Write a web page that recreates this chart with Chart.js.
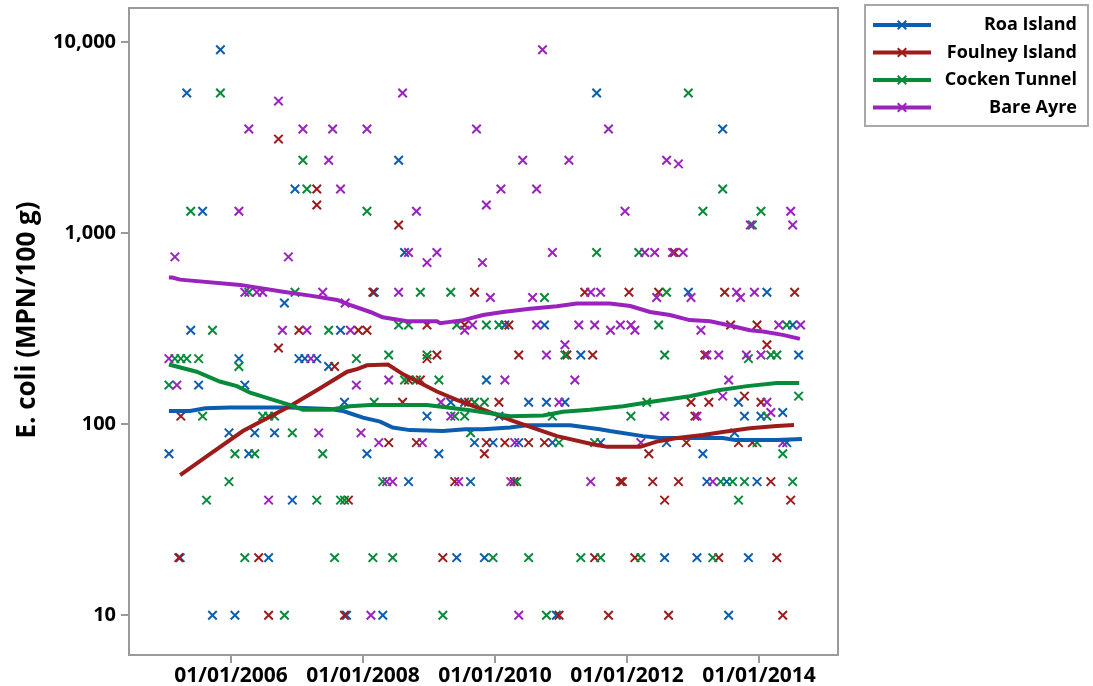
<!DOCTYPE html>
<html>
<head>
<meta charset="utf-8">
<script src="https://cdn.jsdelivr.net/npm/chart.js@4.4.1/dist/chart.umd.min.js"></script>
<style>
  html, body { margin: 0; padding: 0; background: #fff; }
  #wrap { width: 1093px; height: 686px; position: relative; }
</style>
</head>
<body>
<div id="wrap"><canvas id="chart" width="1093" height="686"></canvas></div>
<script>
// Sites and their colours
const seriesNames = ['Roa Island', 'Foulney Island', 'Cocken Tunnel', 'Bare Ayre'];
const seriesColors = ['#0B5DAF', '#9C1C1C', '#078A3A', '#9A22BD'];

// Axis ticks and title
const xTickYears = [2006, 2008, 2010, 2012, 2014];
const yTickValues = [10, 100, 1000, 10000];
const yTitle = 'E. coli (MPN/100 g)';

// Shellfish samples: [sampling date as decimal year, E. coli MPN/100 g]
const roaIsland = [
  [2005.06,70],[2005.23,20],[2005.33,5400],[2005.39,310],[2005.51,160],[2005.57,1300],[2005.72,10],
  [2005.84,9100],[2005.97,90],[2006.06,10],[2006.12,220],[2006.21,160],[2006.27,70],[2006.36,90],
  [2006.57,20],[2006.66,90],[2006.81,430],[2006.93,40],[2006.97,1700],[2007.03,220],[2007.12,220],
  [2007.30,220],[2007.48,200],[2007.66,310],[2007.72,130],[2007.75,10],[2008.06,70],[2008.17,490],
  [2008.30,10],[2008.54,2400],[2008.63,790],[2008.69,50],[2008.97,110],[2009.15,70],[2009.33,130],
  [2009.42,20],[2009.54,130],[2009.63,50],[2009.69,80],[2009.84,20],[2009.87,170],[2009.97,80],
  [2010.06,110],[2010.15,330],[2010.36,80],[2010.51,130],[2010.75,330],[2010.78,130],[2010.87,80],
  [2010.93,10],[2011.06,130],[2011.30,230],[2011.54,5400],[2011.60,80],[2012.57,20],[2012.60,80],
  [2012.93,490],[2013.06,20],[2013.15,70],[2013.21,50],[2013.45,3500],[2013.51,50],[2013.54,10],
  [2013.63,90],[2013.69,130],[2013.78,110],[2013.84,20],[2013.97,50],[2014.03,110],[2014.12,490],
  [2014.36,115],[2014.42,80],[2014.51,330],[2014.60,230]
];
const foulneyIsland = [
  [2005.21,20],[2005.24,110],[2006.42,20],[2006.57,10],[2006.72,3100],[2006.72,250],[2007.03,310],
  [2007.30,1700],[2007.30,1400],[2007.57,200],[2007.72,10],[2007.78,40],[2007.93,310],[2008.06,310],
  [2008.15,490],[2008.39,80],[2008.54,1100],[2008.60,130],[2008.69,170],[2008.81,80],[2008.87,170],
  [2008.97,220],[2008.97,330],[2009.12,230],[2009.21,20],[2009.39,50],[2009.54,330],[2009.60,130],
  [2009.69,490],[2009.84,70],[2009.87,80],[2010.06,130],[2010.15,80],[2010.21,330],[2010.29,50],
  [2010.36,230],[2010.51,80],[2010.75,80],[2010.97,10],[2011.09,230],[2011.36,490],[2011.48,230],
  [2011.51,20],[2011.72,10],[2011.90,50],[2011.93,50],[2012.03,490],[2012.12,20],[2012.33,70],
  [2012.39,50],[2012.48,490],[2012.57,40],[2012.63,10],[2012.72,790],[2012.78,50],[2012.90,80],
  [2012.97,130],[2013.03,110],[2013.18,230],[2013.24,130],[2013.39,20],[2013.48,490],[2013.57,330],
  [2013.69,80],[2013.78,140],[2013.90,80],[2013.97,330],[2014.03,130],[2014.12,260],[2014.18,50],
  [2014.27,20],[2014.36,10],[2014.48,40],[2014.54,490]
];
const cockenTunnel = [
  [2005.06,160],[2005.15,220],[2005.24,220],[2005.33,220],[2005.39,1300],[2005.51,220],[2005.57,110],
  [2005.63,40],[2005.72,310],[2005.84,5400],[2005.97,50],[2006.06,70],[2006.12,200],[2006.21,20],
  [2006.27,490],[2006.36,70],[2006.48,110],[2006.57,110],[2006.66,110],[2006.81,10],[2006.93,90],
  [2006.97,490],[2007.09,2400],[2007.15,1700],[2007.30,40],[2007.39,70],[2007.48,310],[2007.57,20],
  [2007.66,40],[2007.72,40],[2007.90,220],[2008.06,1300],[2008.15,20],[2008.17,130],[2008.30,50],
  [2008.39,230],[2008.45,20],[2008.54,330],[2008.63,170],[2008.69,330],[2008.81,170],[2008.87,490],
  [2008.97,230],[2009.15,170],[2009.21,10],[2009.33,490],[2009.39,110],[2009.42,330],[2009.54,110],
  [2009.63,90],[2009.69,130],[2009.84,130],[2009.87,330],[2009.97,20],[2010.06,330],[2010.33,50],
  [2010.51,20],[2010.75,460],[2010.78,10],[2010.87,110],[2010.97,80],[2011.06,230],[2011.30,20],
  [2011.51,80],[2011.54,790],[2011.60,20],[2012.06,110],[2012.18,790],[2012.21,20],[2012.30,130],
  [2012.48,330],[2012.57,230],[2012.60,490],[2012.93,5400],[2013.15,1300],[2013.30,20],[2013.42,50],
  [2013.45,1700],[2013.60,50],[2013.69,40],[2013.78,50],[2013.84,220],[2013.90,1100],[2013.97,80],
  [2014.03,1300],[2014.12,110],[2014.18,230],[2014.27,230],[2014.36,70],[2014.42,330],[2014.51,50],
  [2014.60,140]
];
const bareAyre = [
  [2005.06,220],[2005.15,750],[2005.18,160],[2006.12,1300],[2006.21,490],[2006.27,3500],[2006.39,490],
  [2006.48,490],[2006.57,40],[2006.72,4900],[2006.78,310],[2006.87,750],[2007.09,3500],[2007.15,310],
  [2007.21,220],[2007.33,90],[2007.39,490],[2007.48,2400],[2007.54,3500],[2007.66,1700],[2007.73,430],
  [2007.81,310],[2007.90,160],[2007.97,90],[2008.06,3500],[2008.12,10],[2008.24,80],[2008.36,50],
  [2008.39,170],[2008.45,50],[2008.54,490],[2008.60,5400],[2008.69,790],[2008.81,1300],[2008.90,80],
  [2008.97,700],[2009.12,790],[2009.18,130],[2009.33,110],[2009.45,50],[2009.54,310],[2009.66,330],
  [2009.72,3500],[2009.81,700],[2009.87,1400],[2009.93,460],[2010.09,1700],[2010.15,170],[2010.24,50],
  [2010.30,80],[2010.36,10],[2010.42,2400],[2010.57,460],[2010.63,330],[2010.63,1700],[2010.72,9100],
  [2010.78,230],[2010.87,790],[2010.97,130],[2011.06,260],[2011.12,2400],[2011.21,170],[2011.27,330],
  [2011.45,490],[2011.45,50],[2011.51,330],[2011.60,490],[2011.72,3500],[2011.75,310],[2011.90,330],
  [2011.97,1300],[2012.06,330],[2012.12,310],[2012.21,80],[2012.27,790],[2012.42,790],[2012.45,460],
  [2012.57,110],[2012.60,2400],[2012.69,790],[2012.78,2300],[2012.85,790],[2012.97,460],[2013.06,110],
  [2013.12,310],[2013.21,230],[2013.30,50],[2013.39,230],[2013.45,140],[2013.54,170],[2013.66,490],
  [2013.72,460],[2013.81,230],[2013.87,1100],[2013.93,490],[2014.03,230],[2014.12,130],[2014.18,115],
  [2014.30,330],[2014.36,80],[2014.48,1300],[2014.51,1100],[2014.63,330]
];

// Smoothed trend per site: [decimal year, MPN/100 g]
const roaTrend = [
  [2005.06,117],[2005.38,117],[2005.61,121],[2005.98,122],[2006.89,122],[2007.50,120],[2007.70,117],
  [2008.00,108],[2008.26,103],[2008.45,96],[2008.71,93],[2009.21,92],[2009.55,94],[2009.82,94],
  [2010.23,96],[2010.48,98.5],[2011.14,98.5],[2011.59,94],[2011.74,92],[2012.24,86.5],[2012.50,84.5],
  [2013.45,84.5],[2013.64,82.6],[2014.27,82.6],[2014.65,83.6]
];
const foulneyTrend = [
  [2005.23,54],[2005.68,69.6],[2006.18,92],[2006.89,124],[2007.35,154],[2007.76,188],[2007.91,194],
  [2008.06,203],[2008.38,205],[2008.61,182],[2009.12,148],[2009.42,134],[2009.82,119],[2010.27,104],
  [2010.94,86.5],[2011.48,78.5],[2011.70,76],[2012.20,76],[2012.45,81],[2012.76,84.5],[2013.15,87.6],
  [2013.45,91],[2013.86,95],[2014.27,97.7],[2014.53,98.8]
];
const cockenTrend = [
  [2005.06,205],[2005.48,188],[2005.83,167],[2006.09,158],[2006.29,146],[2006.64,134],[2006.89,126],
  [2007.09,119],[2007.50,119],[2007.80,124],[2008.11,126],[2008.97,126],[2009.62,118],[2010.23,110],
  [2010.73,111],[2011.03,116],[2011.44,119],[2011.94,124],[2012.45,132],[2012.95,140],[2013.36,150],
  [2013.82,158],[2014.27,164],[2014.61,164]
];
const bareTrend = [
  [2005.06,584],[2005.11,584],[2005.23,570],[2006.14,535],[2006.79,493],[2007.20,470],[2007.61,446],
  [2007.80,420],[2008.11,386],[2008.30,362],[2008.67,345],[2009.12,345],[2009.17,337],[2009.52,350],
  [2009.82,372],[2010.12,386],[2010.53,401],[2010.94,414],[2011.24,427],[2011.74,427],[2012.05,415],
  [2012.35,386],[2012.65,372],[2012.95,350],[2013.26,345],[2013.56,328],[2013.86,310],[2014.06,305],
  [2014.36,293],[2014.62,279]
];

const samples = [roaIsland, foulneyIsland, cockenTunnel, bareAyre];
const trends = [roaTrend, foulneyTrend, cockenTrend, bareTrend];

const FONT = '"Open Sans", "Noto Sans", sans-serif';
const MARK_RADIUS = 6;
const MARK_WIDTH = 2;
const toPoints = arr => arr.map(([x, y]) => ({ x, y }));

const datasets = [];
// trend lines (later sites drawn on top)
trends.forEach((t, i) => {
  datasets.push({
    label: seriesNames[i] + ' trend',
    data: toPoints(t),
    showLine: true,
    borderColor: seriesColors[i],
    borderWidth: 4,
    pointRadius: 0,
    tension: 0,
    fill: false,
    order: 3 - i
  });
});
// individual results
samples.forEach((s, i) => {
  datasets.push({
    label: seriesNames[i],
    data: toPoints(s),
    showLine: false,
    pointStyle: 'crossRot',
    pointRadius: MARK_RADIUS,
    pointBorderWidth: MARK_WIDTH,
    borderColor: seriesColors[i],
    backgroundColor: seriesColors[i],
    order: 7 - i
  });
});

// Plot frame, vertical axis title and site key
const frameAndKey = {
  id: 'frameAndKey',
  afterDraw(chart) {
    const { ctx, chartArea: a } = chart;
    ctx.save();
    ctx.strokeStyle = '#9a9a9a';
    ctx.lineWidth = 2;
    ctx.strokeRect(a.left, a.top, a.right - a.left, a.bottom - a.top);

    // axis title
    ctx.save();
    ctx.translate(28, 320);
    ctx.rotate(-Math.PI / 2);
    ctx.fillStyle = '#000';
    ctx.font = 'bold 26px ' + FONT;
    ctx.textAlign = 'center';
    ctx.textBaseline = 'middle';
    ctx.fillText(yTitle, 0, 0);
    ctx.restore();

    // key box
    const bx = 865, by = 5, bw = 223, bh = 121;
    ctx.strokeStyle = '#a8a8a8';
    ctx.lineWidth = 2;
    ctx.strokeRect(bx, by, bw, bh);
    const rowY = [25, 52.5, 80, 107.5];
    seriesNames.forEach((name, i) => {
      const y = rowY[i];
      ctx.strokeStyle = seriesColors[i];
      ctx.fillStyle = seriesColors[i];
      ctx.lineWidth = 4;
      ctx.beginPath();
      ctx.moveTo(873, y);
      ctx.lineTo(931, y);
      ctx.stroke();
      ctx.lineWidth = MARK_WIDTH;
      Chart.helpers.drawPoint(ctx, {
        pointStyle: 'crossRot', radius: MARK_RADIUS, borderWidth: MARK_WIDTH
      }, 902, y);
      ctx.fillStyle = '#000';
      ctx.font = 'bold 18px ' + FONT;
      ctx.textAlign = 'right';
      ctx.textBaseline = 'middle';
      ctx.fillText(name, 1077, y);
    });
    ctx.restore();
  }
};

new Chart(document.getElementById('chart'), {
  type: 'scatter',
  data: { datasets },
  plugins: [frameAndKey],
  options: {
    responsive: false,
    animation: false,
    events: [],
    layout: { padding: { left: 0, top: 6, right: 255, bottom: 0 } },
    plugins: {
      legend: { display: false },
      tooltip: { enabled: false }
    },
    scales: {
      x: {
        type: 'linear',
        min: 2004.455,
        max: 2015.197,
        afterBuildTicks: s => { s.ticks = xTickYears.map(v => ({ value: v })); },
        afterFit: s => { s.height = 31; s.paddingLeft = 0; s.paddingRight = 0; },
        ticks: {
          callback: v => '01/01/' + v,
          color: '#000',
          font: { family: FONT, size: 21, weight: 'bold' },
          padding: 0,
          maxRotation: 0,
          autoSkip: false
        },
        grid: { drawOnChartArea: false, drawTicks: true, tickLength: 8, color: '#9a9a9a', lineWidth: 2 },
        border: { display: true, color: '#9a9a9a', width: 2 }
      },
      y: {
        type: 'logarithmic',
        min: 6.19,
        max: 15040,
        afterBuildTicks: s => { s.ticks = yTickValues.map(v => ({ value: v })); },
        afterFit: s => { s.width = 129; s.paddingTop = 0; s.paddingBottom = 0; },
        ticks: {
          callback: v => Number(v).toLocaleString('en-US'),
          color: '#000',
          font: { family: FONT, size: 20, weight: 'bold' },
          padding: 5,
          autoSkip: false
        },
        grid: { drawOnChartArea: false, drawTicks: true, tickLength: 8, color: '#9a9a9a', lineWidth: 2 },
        border: { display: true, color: '#9a9a9a', width: 2 }
      }
    }
  }
});
</script>
</body>
</html>
